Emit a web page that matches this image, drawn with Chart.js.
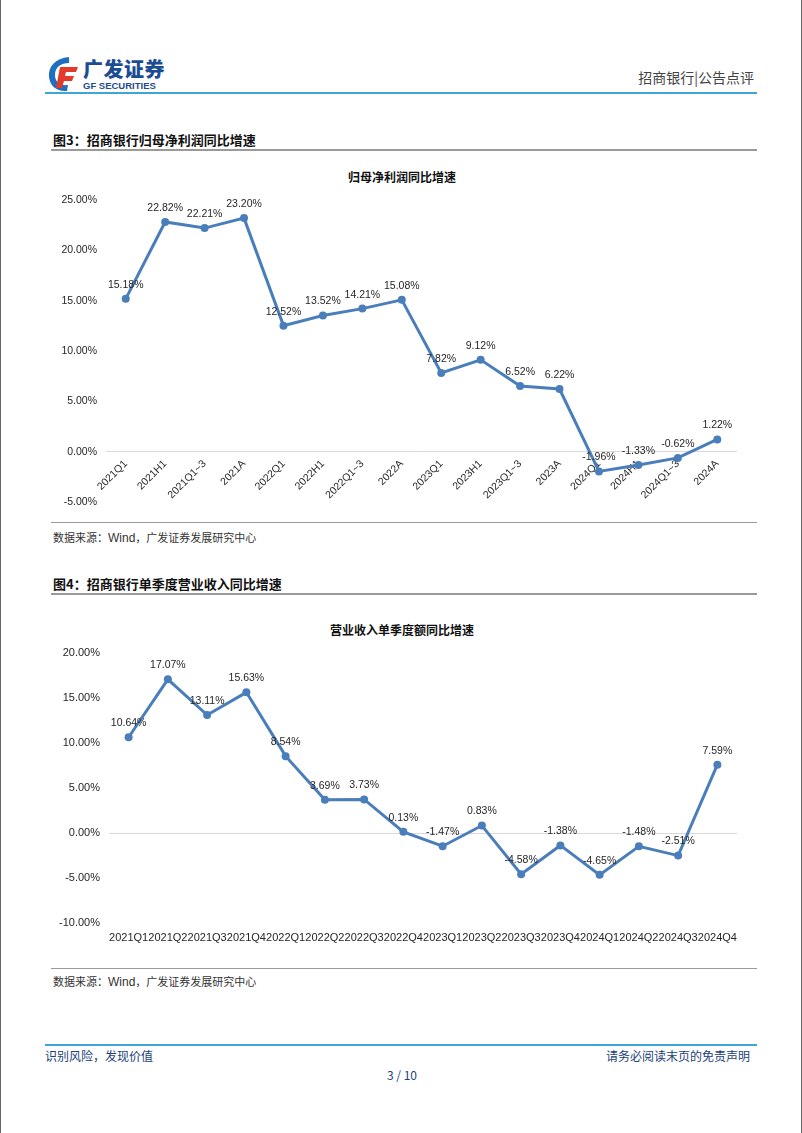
<!DOCTYPE html>
<html>
<head>
<meta charset="utf-8">
<script src="https://cdn.jsdelivr.net/npm/chart.js@4.4.1/dist/chart.umd.min.js"></script>
<style>
  body { margin: 0; background: #fff; }
  #page { position: relative; width: 802px; height: 1133px; overflow: hidden; background: #fff;
          border-left: 1px solid #666; border-right: 1px solid #666; box-sizing: border-box;
          font-family: "Noto Sans CJK SC", sans-serif; color: #222; }
  .abs { position: absolute; white-space: nowrap; }
  .rule { position: absolute; }
  .figtitle { font-size: 13px; font-weight: bold; color: #111; }
  .ctitle { font-size: 12px; font-weight: bold; color: #111; width: 802px; left: 0; text-align: center; }
  .src { font-size: 11px; color: #333; }
  .src b { font-family: "Liberation Sans", Arial, sans-serif; font-weight: normal; font-size: 12px; }
  canvas { position: absolute; left: 0; }
</style>
</head>
<body>
<div id="page">
  <!-- header -->
  <svg class="abs" style="left:46px;top:55px" width="34" height="38" viewBox="0 0 34 38">
    <path d="M22 2 C8 3 1 12 2 22 C3 31 10 37 20 36 L21 30 C13 31 8 27 8 20 C8 12 14 8 22 8 Z" fill="#1f6fc0"/>
    <path d="M13 12 L31 12 L29 17 L19 17 L18 21 L27 21 L25 26 L17 26 L15 33 L9 33 Z" fill="#e33a2a"/>
  </svg>
  <div class="abs" style="left:82px;top:54px;font-size:20px;font-weight:900;color:#1c4c92;letter-spacing:0.5px">广发证券</div>
  <div class="abs" style="left:82px;top:80px;font-family:'Liberation Sans',Arial;font-size:9.5px;font-weight:bold;color:#1c4c92">GF SECURITIES</div>
  <div class="abs" style="right:47px;top:67px;font-size:14px;color:#444">招商银行|公告点评</div>
  <div class="rule" style="left:44px;width:712px;top:92px;height:2px;background:#3da6d6"></div>

  <!-- figure 3 -->
  <div class="abs figtitle" style="left:52px;top:130px">图3：招商银行归母净利润同比增速</div>
  <div class="rule" style="left:50px;width:706px;top:149px;height:2px;background:#9a9a9a"></div>
  <div class="abs ctitle" style="top:168px">归母净利润同比增速</div>
  <canvas id="c1" style="top:155px" width="802" height="365"></canvas>
  <div class="rule" style="left:50px;width:706px;top:522px;height:1px;background:#9a9a9a"></div>
  <div class="abs src" style="left:52px;top:529px">数据来源：<b>Wind</b>，广发证券发展研究中心</div>

  <!-- figure 4 -->
  <div class="abs figtitle" style="left:52px;top:574px">图4：招商银行单季度营业收入同比增速</div>
  <div class="rule" style="left:50px;width:706px;top:593px;height:2px;background:#9a9a9a"></div>
  <div class="abs ctitle" style="top:621px">营业收入单季度额同比增速</div>
  <canvas id="c2" style="top:600px" width="802" height="355"></canvas>
  <div class="rule" style="left:50px;width:706px;top:968px;height:1px;background:#9a9a9a"></div>
  <div class="abs src" style="left:52px;top:973px">数据来源：<b>Wind</b>，广发证券发展研究中心</div>

  <!-- footer -->
  <div class="rule" style="left:44px;width:712px;top:1044px;height:2px;background:#3da6d6"></div>
  <div class="abs" style="left:44px;top:1047px;font-size:12px;color:#1c3f7a">识别风险，发现价值</div>
  <div class="abs" style="right:51px;top:1047px;font-size:12px;color:#1c3f7a">请务必阅读末页的免责声明</div>
  <div class="abs" style="left:0;width:802px;text-align:center;top:1066px;font-size:12px;color:#1c3f7a">3 / 10</div>
</div>

<script>
  // 图3 data
  var profitLabels = ["2021Q1", "2021H1", "2021Q1~3", "2021A", "2022Q1", "2022H1", "2022Q1~3", "2022A",
                      "2023Q1", "2023H1", "2023Q1~3", "2023A", "2024Q1", "2024H1", "2024Q1~3", "2024A"];
  var profitGrowth = [15.18, 22.82, 22.21, 23.20, 12.52, 13.52, 14.21, 15.08,
                      7.82, 9.12, 6.52, 6.22, -1.96, -1.33, -0.62, 1.22];

  // 图4 data
  var revenueLabels = ["2021Q1", "2021Q2", "2021Q3", "2021Q4", "2022Q1", "2022Q2", "2022Q3", "2022Q4",
                       "2023Q1", "2023Q2", "2023Q3", "2023Q4", "2024Q1", "2024Q2", "2024Q3", "2024Q4"];
  var revenueGrowth = [10.64, 17.07, 13.11, 15.63, 8.54, 3.69, 3.73, 0.13,
                       -1.47, 0.83, -4.58, -1.38, -4.65, -1.48, -2.51, 7.59];

  var LINE_BLUE = "#4a7ebb";
  var TEXT = "#262626";
  var SANS = "'Liberation Sans', Arial, sans-serif";

  // value labels above each point
  var pointLabels = {
    id: "pointLabels",
    afterDatasetsDraw: function (chart) {
      var ctx = chart.ctx;
      var ds = chart.data.datasets[0];
      var meta = chart.getDatasetMeta(0);
      ctx.save();
      ctx.font = "10.5px " + SANS;
      ctx.fillStyle = TEXT;
      ctx.textAlign = "center";
      ctx.textBaseline = "middle";
      meta.data.forEach(function (pt, i) {
        ctx.fillText(ds.data[i].toFixed(2) + "%", pt.x, pt.y - 14);
      });
      ctx.restore();
    }
  };

  function zeroGrid(c) {
    return c.tick && c.tick.value === 0 ? "#d9d9d9" : "rgba(0,0,0,0)";
  }

  function makeChart(id, labels, values, yMin, yMax, xScale, padding, yWidth, tickSize) {
    return new Chart(document.getElementById(id), {
      type: "line",
      data: {
        labels: labels,
        datasets: [{
          data: values,
          borderColor: LINE_BLUE,
          backgroundColor: LINE_BLUE,
          borderWidth: 3,
          pointRadius: 4,
          pointBackgroundColor: LINE_BLUE,
          pointBorderWidth: 0,
          tension: 0
        }]
      },
      options: {
        responsive: false,
        animation: false,
        layout: { padding: padding },
        plugins: { legend: { display: false }, tooltip: { enabled: false } },
        scales: {
          x: xScale,
          y: {
            min: yMin,
            max: yMax,
            afterFit: function (s) { s.width = yWidth; },
            border: { display: false },
            grid: { color: zeroGrid, lineWidth: 1, drawTicks: false },
            ticks: {
              stepSize: 5,
              padding: 9,
              color: TEXT,
              font: { family: SANS, size: tickSize },
              callback: function (v) { return v.toFixed(2) + "%"; }
            }
          }
        }
      },
      plugins: [pointLabels]
    });
  }

  makeChart("c1", profitLabels, profitGrowth, -5, 25, {
    position: { y: 0 },
    offset: true,
    border: { display: false },
    grid: { display: false, drawTicks: false },
    ticks: {
      autoSkip: false, minRotation: 45, maxRotation: 45, padding: 6,
      color: TEXT, font: { family: SANS, size: 10.5 }
    }
  }, { top: 45, bottom: 18, left: 0, right: 66 }, 105, 10.5);

  makeChart("c2", revenueLabels, revenueGrowth, -10, 20, {
    offset: true,
    border: { display: false },
    grid: { display: false, drawTicks: false },
    afterFit: function (s) { s.height = 22; },
    ticks: {
      autoSkip: false, minRotation: 0, maxRotation: 0, padding: 8,
      color: TEXT, font: { family: SANS, size: 11 }
    }
  }, { top: 53, bottom: 10, left: 0, right: 66 }, 108, 11);
</script>
</body>
</html>
